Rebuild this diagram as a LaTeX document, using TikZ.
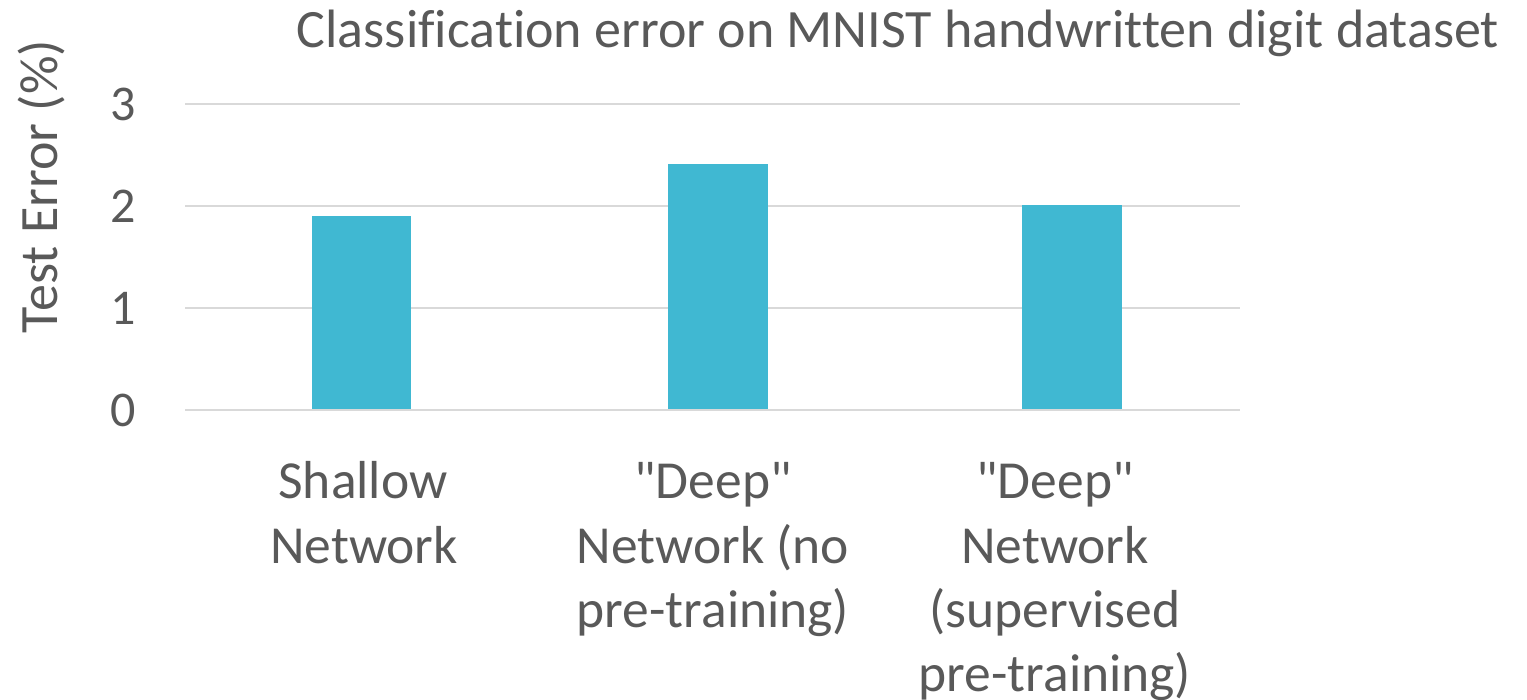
\documentclass[tikz,border=0pt]{standalone}
\usepackage{fontspec}
\setmainfont{Carlito}[Ligatures=NoCommon]
\definecolor{txt}{HTML}{595959}
\definecolor{gridc}{HTML}{D9D9D9}
\definecolor{barc}{HTML}{40B8D2}
\begin{document}
\begin{tikzpicture}[x=1pt,y=-1pt,
  lbl/.style={text=txt,font=\fontsize{53.5}{64}\selectfont,inner sep=0pt,anchor=base},
  ttl/.style={text=txt,font=\fontsize{54}{64}\selectfont,inner sep=0pt,anchor=base},
  tick/.style={text=txt,font=\fontsize{50}{60}\selectfont,inner sep=0pt,anchor=east},
  gridline/.style={draw=gridc,line width=2pt},
  bar/.style={fill=barc,draw=none}]
\useasboundingbox (0,0) rectangle (1527,700);
% grid
\foreach \v/\yy in {0/410,1/308,2/206,3/104}{
  \coordinate (gl\v) at (185,\yy);
  \coordinate (gr\v) at (1240,\yy);
  \draw[gridline] (gl\v) -- (gr\v);
  \node[tick] (t\v) at (136,\yy) {\v};
}
% bars
\fill[bar] (312,410) rectangle (411,216);
\fill[bar] (668,410) rectangle (768,164.5);
\fill[bar] (1022,410) rectangle (1122,205);
\draw[gridline] (gl0) -- (gr0);
% title
\node[ttl] (title) at (898,48) {Classification error on MNIST handwritten digit dataset};
% axis title
\node[lbl,font=\fontsize{54}{64}\selectfont,rotate=90] (ytitle) at (57,186.5) {Test Error (\%)};
% categories
\node[lbl] (c1a) at (363,499) {Shallow};
\node[lbl] (c1b) at (364,563) {Network};
\node[lbl] (c2a) at (713,499) {\textquotedbl Deep\textquotedbl};
\node[lbl] (c2b) at (713,563) {Network (no};
\node[lbl] (c2c) at (713,627) {pre-training)};
\node[lbl] (c3a) at (1055,499) {\textquotedbl Deep\textquotedbl};
\node[lbl] (c3b) at (1055,563) {Network};
\node[lbl] (c3c) at (1055,627) {(supervised};
\node[lbl] (c3d) at (1055,691) {pre-training)};
\end{tikzpicture}
\end{document}
